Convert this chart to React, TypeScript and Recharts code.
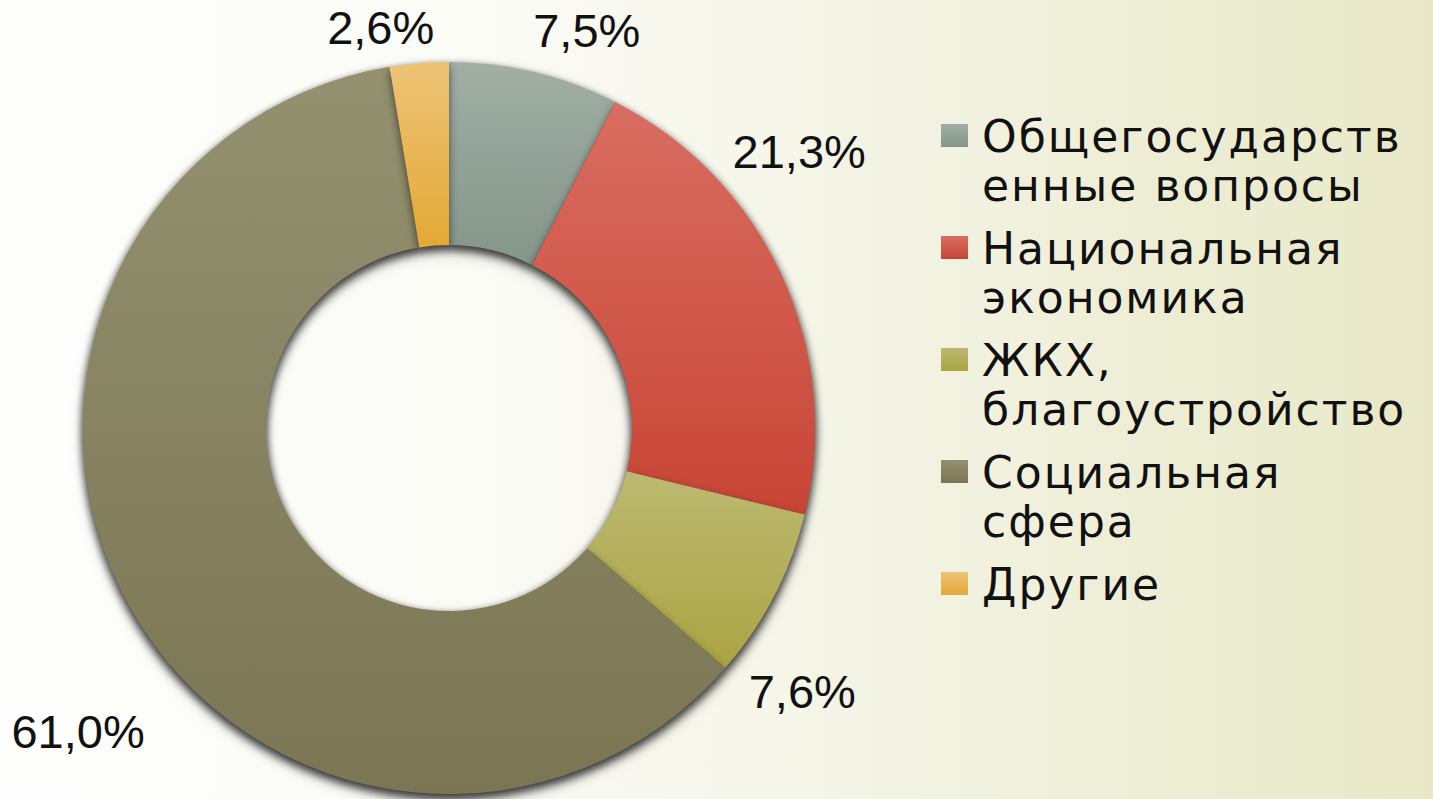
import { PieChart, Pie, Cell, Legend } from 'recharts';

const categories = [
  'Общегосударственные вопросы',
  'Национальная экономика',
  'ЖКХ, благоустройство',
  'Социальная сфера',
  'Другие',
];
// legend text as it wraps in the picture
const legendLines = [
  ['Общегосударств', 'енные вопросы'],
  ['Национальная', 'экономика'],
  ['ЖКХ,', 'благоустройство'],
  ['Социальная', 'сфера'],
  ['Другие'],
];
const shares = [7.5, 21.3, 7.6, 61.0, 2.6];

const gradients = [
  ['#a1afa5', '#84958a'],
  ['#d96d61', '#c84535'],
  ['#bdb971', '#aaa443'],
  ['#949170', '#7a7654'],
  ['#eec377', '#e3a935'],
];

// where each percentage label sits relative to its slice: angle shift (deg, clockwise) and distance past the rim
const labelNudge = [
  { dAngle: 5.6, dRadius: 55 },
  { dAngle: -13.6, dRadius: 80 },
  { dAngle: 9.4, dRadius: 75 },
  { dAngle: -10.1, dRadius: 113 },
  { dAngle: -5.0, dRadius: 40 },
];

const data = categories.map((name, i) => ({ name, value: shares[i] }));

const RADIAN = Math.PI / 180;

function renderLabel(props: any) {
  const { cx, cy, midAngle, outerRadius, index, value } = props;
  const n = labelNudge[index];
  const a = (midAngle - n.dAngle) * RADIAN;
  const r = outerRadius + n.dRadius;
  const x = cx + Math.cos(-a) * r;
  const y = cy + Math.sin(-a) * r;
  return (
    <text
      x={x}
      y={y}
      textAnchor="middle"
      dominantBaseline="central"
      fill="#111"
      fontSize={47}
      fontFamily="'Liberation Sans', Arial, sans-serif"
    >
      {value.toFixed(1).replace('.', ',') + '%'}
    </text>
  );
}

function LegendBox() {
  return (
    <div style={{ fontFamily: "'DejaVu Sans', sans-serif", fontSize: 44, lineHeight: '49px', color: '#111', letterSpacing: 2 }}>
      {legendLines.map((lines, i) => (
        <div key={categories[i]} style={{ display: 'flex', alignItems: 'flex-start', marginBottom: 14 }}>
          <span
            style={{
              display: 'inline-block',
              width: 27,
              height: 23,
              marginTop: 12,
              marginRight: 14,
              flex: 'none',
              background: `linear-gradient(${gradients[i][0]}, ${gradients[i][1]})`,
            }}
          />
          <div>
            {lines.map((l) => (
              <div key={l} style={{ whiteSpace: 'nowrap' }}>{l}</div>
            ))}
          </div>
        </div>
      ))}
    </div>
  );
}

export default function App() {
  return (
    <div
      style={{
        width: 1433,
        height: 799,
        position: 'relative',
        background: 'linear-gradient(to right, #fefefc 0%, #fbfbf6 35%, #f3f3e4 62%, #e8e8c7 100%)',
      }}
    >
      <style>{'body{margin:0} .donut{filter:drop-shadow(0 4px 4px rgba(0,0,0,0.55))}'}</style>
      <PieChart width={1433} height={799} margin={{ top: 0, right: 0, bottom: 0, left: 0 }}>
        <defs>
          {gradients.map((g, i) => (
            <linearGradient key={i} id={`slice${i}`} x1="0" y1="0" x2="0" y2="1">
              <stop offset="0%" stopColor={g[0]} />
              <stop offset="100%" stopColor={g[1]} />
            </linearGradient>
          ))}
        </defs>
        <Pie
          className="donut"
          data={data}
          dataKey="value"
          nameKey="name"
          cx={449}
          cy={428}
          innerRadius={183}
          outerRadius={366}
          startAngle={90}
          endAngle={-270}
          stroke="none"
          label={false}
          isAnimationActive={false}
        >
          {data.map((d, i) => (
            <Cell key={d.name} fill={`url(#slice${i})`} />
          ))}
        </Pie>
        <Pie
          data={data}
          dataKey="value"
          nameKey="name"
          cx={449}
          cy={428}
          innerRadius={183}
          outerRadius={366}
          startAngle={90}
          endAngle={-270}
          fill="none"
          stroke="none"
          label={renderLabel}
          labelLine={false}
          isAnimationActive={false}
        />
        <Legend
          content={<LegendBox />}
          wrapperStyle={{ left: 941, top: 112, width: 480, bottom: 'auto', right: 'auto' }}
        />
      </PieChart>
    </div>
  );
}
